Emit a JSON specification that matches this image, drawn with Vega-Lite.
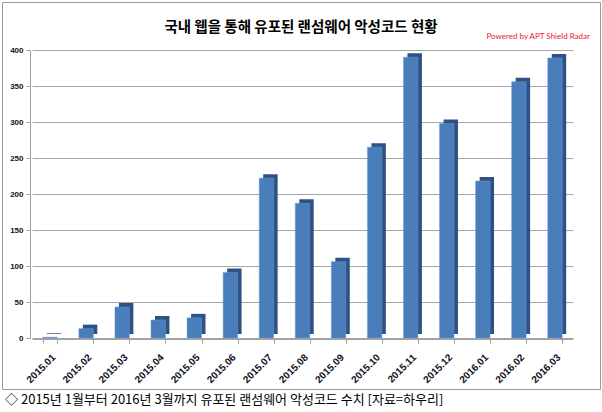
{
  "$schema": "https://vega.github.io/schema/vega-lite/v6.json",
  "width": 598,
  "height": 387,
  "autosize": "none",
  "padding": {"left": 2, "top": 2, "right": 2, "bottom": 23},
  "background": "white",
  "title": {
    "text": "국내 웹을 통해 유포된 랜섬웨어 악성코드 현황",
    "font": "Noto Sans CJK KR",
    "fontSize": 14.5,
    "fontWeight": "bold",
    "color": "#000000",
    "anchor": "middle",
    "offset": -33
  },
  "datasets": {
    "ransomware": [
      {"month": "2015.01", "count": 1},
      {"month": "2015.02", "count": 13},
      {"month": "2015.03", "count": 43},
      {"month": "2015.04", "count": 25},
      {"month": "2015.05", "count": 28},
      {"month": "2015.06", "count": 91},
      {"month": "2015.07", "count": 222},
      {"month": "2015.08", "count": 187},
      {"month": "2015.09", "count": 106},
      {"month": "2015.10", "count": 265},
      {"month": "2015.11", "count": 390},
      {"month": "2015.12", "count": 298},
      {"month": "2016.01", "count": 218},
      {"month": "2016.02", "count": 356},
      {"month": "2016.03", "count": 389}
    ],
    "notes": [
      {"month": "2016.03", "count": 418, "label": "Powered by APT Shield Radar", "kind": "credit"},
      {"month": "2015.01", "count": -86, "label": "◇ 2015년 1월부터 2016년 3월까지 유포된 랜섬웨어 악성코드 수치 [자료=하우리]", "kind": "caption"}
    ]
  },
  "data": {"name": "ransomware"},
  "encoding": {
    "x": {
      "field": "month",
      "type": "ordinal",
      "scale": {"range": [30, 571], "paddingInner": 0.6, "paddingOuter": 0.3},
      "axis": {
        "title": null,
        "offset": -50,
        "tickBand": "extent",
        "labelAngle": -45,
        "labelAlign": "right",
        "labelBaseline": "top",
        "labelFont": "Liberation Sans",
        "labelFontSize": 10,
        "labelFontWeight": "bold",
        "labelColor": "#111122",
        "labelPadding": 9,
        "domainColor": "#a0a0a0",
        "tickColor": "#a0a0a0",
        "tickSize": 4,
        "grid": false
      }
    },
    "y": {
      "field": "count",
      "type": "quantitative",
      "scale": {"domain": [0, 400], "range": [336, 48]},
      "axis": {
        "title": null,
        "offset": -28,
        "values": [0, 50, 100, 150, 200, 250, 300, 350, 400],
        "labelFont": "Liberation Sans",
        "labelFontSize": 8,
        "labelFontWeight": "bold",
        "labelColor": "#111122",
        "labelPadding": 3,
        "domainColor": "#a0a0a0",
        "tickColor": "#a0a0a0",
        "tickSize": 4,
        "grid": true,
        "gridColor": "#a6a6a6",
        "gridWidth": 1
      }
    }
  },
  "layer": [
    {
      "mark": {"type": "bar", "color": "#2e5284", "xOffset": 4, "yOffset": -4, "y2Offset": -4}
    },
    {
      "mark": {"type": "bar", "color": "#4a7ebb", "stroke": "#6a98d0", "strokeWidth": 0.5}
    },
    {
      "data": {"name": "notes"},
      "transform": [{"filter": "datum.kind == 'credit'"}],
      "mark": {
        "type": "text",
        "align": "right",
        "baseline": "middle",
        "dx": 35,
        "font": "Lato",
        "fontSize": 8,
        "color": "#e8202a"
      },
      "encoding": {
        "text": {"field": "label"}
      }
    },
    {
      "data": {"name": "notes"},
      "transform": [{"filter": "datum.kind == 'caption'"}],
      "mark": {
        "type": "text",
        "align": "left",
        "baseline": "middle",
        "dx": -45,
        "font": "Noto Sans CJK KR",
        "fontSize": 13,
        "color": "#000000"
      },
      "encoding": {
        "text": {"field": "label"}
      }
    }
  ],
  "config": {
    "view": {"stroke": "#9a9a9a", "strokeWidth": 1}
  }
}
